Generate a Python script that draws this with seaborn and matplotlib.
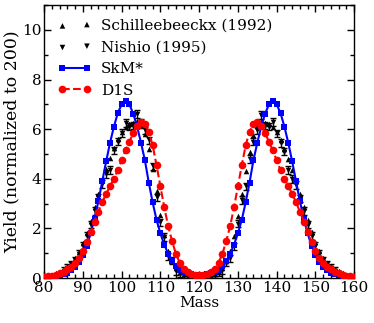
import numpy as np
import pandas as pd
import matplotlib
matplotlib.use("Agg")
import matplotlib.pyplot as plt
import seaborn as sns

# --- datos ---
masa = list(range(80, 161))

skm = [0.03, 0.04, 0.06, 0.08, 0.11, 0.15, 0.22, 0.32, 0.46, 0.66,
       0.95, 1.30, 1.80, 2.40, 3.10, 3.90, 4.70, 5.45, 6.10, 6.65,
       7.00, 7.12, 7.00, 6.62, 6.10, 5.45, 4.75, 3.85, 3.05, 2.35,
       1.80, 1.35, 0.98, 0.70, 0.48, 0.34, 0.25, 0.19, 0.16, 0.14,
       0.13,
       0.14, 0.16, 0.19, 0.25, 0.34, 0.48, 0.70, 0.98, 1.35, 1.80,
       2.35, 3.05, 3.85, 4.75, 5.45, 6.10, 6.62, 7.00, 7.12, 7.00,
       6.65, 6.10, 5.45, 4.70, 3.90, 3.10, 2.40, 1.80, 1.30, 0.95,
       0.66, 0.46, 0.32, 0.22, 0.15, 0.11, 0.08, 0.06, 0.04, 0.03]

d1s = [0.05, 0.07, 0.10, 0.14, 0.19, 0.26, 0.35, 0.46, 0.60, 0.80,
       1.08, 1.45, 1.85, 2.28, 2.68, 3.05, 3.40, 3.70, 4.00, 4.35,
       4.75, 5.15, 5.50, 5.85, 6.15, 6.28, 6.22, 5.90, 5.35, 4.55,
       3.70, 2.85, 2.10, 1.50, 0.98, 0.62, 0.38, 0.24, 0.16, 0.12,
       0.11,
       0.12, 0.16, 0.24, 0.38, 0.62, 0.98, 1.50, 2.10, 2.85, 3.70,
       4.55, 5.35, 5.90, 6.22, 6.28, 6.15, 5.85, 5.50, 5.15, 4.75,
       4.35, 4.00, 3.70, 3.40, 3.05, 2.68, 2.28, 1.85, 1.45, 1.08,
       0.80, 0.60, 0.46, 0.35, 0.26, 0.19, 0.14, 0.10, 0.07, 0.05]

schill = [0.06, 0.09, 0.13, 0.19, 0.26, 0.35, 0.46, 0.60, 0.80, 1.05,
          1.40, 1.80, 2.30, 2.85, 3.40, 3.95, 4.40, 4.85, 5.25, 5.60,
          5.90, 6.10, 6.20, 6.25, 6.35, 6.15, 5.80, 5.20, 4.40, 3.50,
          2.55, 1.75, 1.10, 0.70, 0.40, 0.25, 0.15, 0.10, 0.07, 0.06,
          0.05,
          0.06, 0.07, 0.10, 0.16, 0.26, 0.42, 0.70, 1.08, 1.70, 2.50,
          3.40, 4.30, 5.10, 5.75, 6.15, 6.35, 6.25, 6.20, 6.10, 5.90,
          5.55, 5.20, 4.80, 4.35, 3.90, 3.40, 2.85, 2.35, 1.85, 1.45,
          1.10, 0.82, 0.62, 0.47, 0.36, 0.27, 0.20, 0.14, 0.10, 0.07]

masa_nishio = list(range(85, 156))
nishio = [0.30, 0.42, 0.55, 0.72, 0.98, 1.30, 1.70, 2.15, 2.70, 3.25,
          3.80, 4.20, 4.35, 5.15, 5.50, 5.85, 6.25, 6.10, 6.15, 6.62,
          6.25, 5.95, 5.55, 4.50, 3.25, 2.25, 1.65, 0.88, 0.72, 0.28,
          0.18, 0.10, 0.06, 0.04, 0.03, 0.03,
          0.03, 0.04, 0.06, 0.15, 0.25, 0.33, 0.62, 0.80, 1.28, 2.20,
          3.15, 3.70, 4.80, 5.50, 5.95, 6.58, 6.15, 6.10, 6.30, 5.83,
          5.45, 5.10, 4.35, 4.00, 3.75, 3.20, 2.70, 2.15, 1.70, 1.30,
          0.98, 0.72, 0.55, 0.42, 0.30]
err_nishio = 0.15

df_teo = pd.DataFrame({"masa": masa, "skm": skm, "d1s": d1s, "schill": schill})
df_nis = pd.DataFrame({"masa": masa_nishio, "y": nishio})

# --- grafico ---
sns.set_style("ticks")
plt.rcParams['font.family'] = ['DejaVu Serif']
plt.rcParams['text.color'] = 'black'
plt.rcParams['axes.labelcolor'] = 'black'
plt.rcParams['xtick.color'] = 'black'
plt.rcParams['ytick.color'] = 'black'
plt.rcParams['axes.edgecolor'] = 'black'
plt.rcParams['xtick.direction'] = 'in'
plt.rcParams['ytick.direction'] = 'in'
plt.rcParams['xtick.top'] = True
plt.rcParams['ytick.right'] = True

fig = plt.figure(figsize=(3.74, 3.23), dpi=100)
ax = fig.add_axes([0.118, 0.139, 0.829, 0.845])

sns.scatterplot(x="masa", y="schill", data=df_teo, marker="^", color="black",
                s=16, linewidth=0, ax=ax, label="Schilleebeeckx (1992)", zorder=3)
ax.errorbar(df_nis["masa"], df_nis["y"], yerr=err_nishio, fmt="none", ecolor="black",
            elinewidth=1.0, capsize=2, capthick=1.0, zorder=3)
sns.scatterplot(x="masa", y="y", data=df_nis, marker="v", color="black",
                s=16, linewidth=0, ax=ax, label="Nishio (1995)", zorder=3)
sns.lineplot(x="masa", y="skm", data=df_teo, color="blue", marker="s", markersize=4.5,
             markeredgewidth=0, linewidth=1.5, ax=ax, label="SkM*", zorder=4)
sns.lineplot(x="masa", y="d1s", data=df_teo, color="red", marker="o", markersize=5.5,
             markeredgewidth=0, linewidth=1.5, linestyle="--", ax=ax, label="D1S", zorder=5)

ax.set_xlim(80, 160)
ax.set_ylim(0, 11)
ax.set_xticks(range(80, 161, 10))
ax.set_xticks(range(80, 161, 2), minor=True)
ax.set_yticks(range(0, 11, 2))
ax.set_yticks(range(0, 12, 1), minor=True)
ax.tick_params(which="major", length=5, width=1, labelsize=11, pad=2)
ax.tick_params(which="minor", length=3, width=1)
for s in ax.spines.values():
    s.set_linewidth(1.0)
    s.set_visible(True)
ax.set_xlabel("Mass", fontsize=11, labelpad=1)
ax.set_ylabel("Yield (normalized to 200)", fontsize=12.5, labelpad=1)

ax.legend(loc="upper left", frameon=False, fontsize=11, numpoints=2, scatterpoints=2,
          handlelength=2.2, handletextpad=0.6, labelspacing=0.5,
          borderaxespad=0.5, markerscale=1.0)

fig.savefig("out.png", dpi=100)
